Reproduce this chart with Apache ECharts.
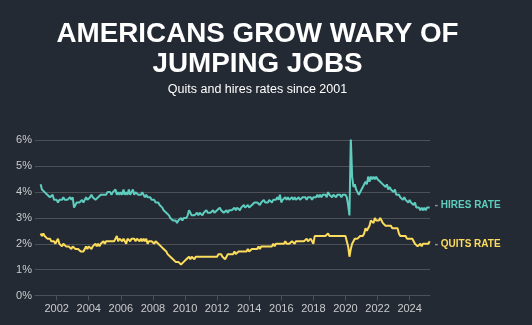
<!DOCTYPE html>
<html>
<head>
<meta charset="utf-8">
<script src="https://cdn.jsdelivr.net/npm/echarts@6/dist/echarts.min.js"></script>
<style>
html,body{margin:0;padding:0;background:#242a33;}
#c{width:532px;height:325px;}
</style>
</head>
<body>
<div id="c"></div>
<script>
// Monthly values, Jan 2001 – Apr 2025 (percent)
const startYear = 2001;
const hiresRate = [
  4.3,4.1,4.1,4.0,4.0,3.9,3.9,3.8,3.8,3.9,3.7,3.7, // 2001
  3.7,3.6,3.7,3.7,3.7,3.8,3.7,3.7,3.7,3.7,3.8,3.7, // 2002
  3.8,3.4,3.5,3.6,3.6,3.6,3.6,3.7,3.6,3.7,3.8,3.7, // 2003
  3.7,3.8,3.9,3.8,3.8,3.7,3.7,3.8,3.8,3.9,3.9,3.9, // 2004
  3.9,3.9,4.0,4.0,4.0,3.9,4.0,4.0,4.1,3.9,4.0,3.9, // 2005
  4.0,3.9,4.1,3.9,4.0,3.9,4.1,3.9,4.0,4.1,3.9,4.0, // 2006
  4.0,3.9,3.9,3.9,4.0,3.9,3.8,3.9,3.8,3.8,3.8,3.7, // 2007
  3.7,3.7,3.6,3.6,3.6,3.5,3.5,3.4,3.3,3.3,3.2,3.2, // 2008
  3.1,3.0,3.0,2.9,2.9,2.9,2.8,2.9,2.9,3.0,2.9,3.0, // 2009
  3.0,3.0,3.1,3.3,3.2,3.1,3.1,3.1,3.1,3.2,3.1,3.2, // 2010
  3.2,3.1,3.2,3.2,3.3,3.2,3.2,3.2,3.2,3.3,3.2,3.2, // 2011
  3.3,3.3,3.4,3.3,3.3,3.2,3.2,3.3,3.2,3.3,3.3,3.3, // 2012
  3.3,3.4,3.3,3.4,3.4,3.3,3.4,3.4,3.5,3.4,3.4,3.5, // 2013
  3.4,3.4,3.5,3.5,3.6,3.6,3.6,3.6,3.5,3.6,3.6,3.7, // 2014
  3.6,3.6,3.6,3.7,3.7,3.6,3.7,3.7,3.7,3.8,3.7,3.9, // 2015
  3.6,3.7,3.7,3.8,3.7,3.8,3.7,3.7,3.8,3.7,3.8,3.7, // 2016
  3.7,3.8,3.7,3.7,3.8,3.8,3.8,3.7,3.8,3.8,3.8,3.7, // 2017
  3.8,3.8,3.8,3.9,3.8,3.9,3.8,3.9,3.9,3.9,3.8,4.0, // 2018
  3.9,3.9,3.8,3.9,3.9,3.8,3.9,3.9,3.9,3.8,3.9,3.9, // 2019
  3.9,3.8,3.5,3.1,6.1,4.6,4.2,4.3,4.1,4.0,3.9,3.9, // 2020
  4.1,4.2,4.2,4.4,4.3,4.6,4.4,4.6,4.5,4.6,4.5,4.6, // 2021
  4.5,4.5,4.4,4.4,4.3,4.3,4.2,4.3,4.1,4.2,4.1,4.1, // 2022
  4.0,4.1,3.9,3.9,3.9,3.8,3.8,3.7,3.8,3.7,3.7,3.6, // 2023
  3.7,3.6,3.6,3.5,3.6,3.4,3.4,3.4,3.3,3.4,3.3,3.4, // 2024
  3.3,3.4,3.4,3.4                                  // 2025
];
const quitsRate = [
  2.4,2.3,2.4,2.3,2.3,2.2,2.2,2.2,2.1,2.1,2.1,2.0, // 2001
  2.1,2.2,2.0,2.0,1.9,2.0,2.0,1.9,1.9,1.9,1.9,1.8, // 2002
  1.9,1.9,1.8,1.8,1.8,1.8,1.7,1.7,1.7,1.8,1.9,1.8, // 2003
  1.9,1.9,1.8,1.9,1.9,2.0,1.9,2.0,1.9,2.0,2.0,2.1, // 2004
  2.0,2.1,2.1,2.1,2.1,2.1,2.1,2.1,2.2,2.3,2.1,2.2, // 2005
  2.2,2.1,2.2,2.2,2.0,2.2,2.2,2.1,2.2,2.2,2.2,2.1, // 2006
  2.2,2.2,2.1,2.2,2.1,2.2,2.1,2.2,2.0,2.1,2.1,2.1, // 2007
  2.1,2.0,2.1,2.1,2.0,2.0,1.9,1.9,1.8,1.8,1.7,1.6, // 2008
  1.6,1.5,1.5,1.4,1.4,1.3,1.3,1.3,1.3,1.2,1.2,1.3, // 2009
  1.3,1.4,1.4,1.5,1.4,1.5,1.5,1.4,1.5,1.5,1.5,1.5, // 2010
  1.5,1.5,1.5,1.5,1.5,1.5,1.5,1.5,1.5,1.5,1.5,1.5, // 2011
  1.5,1.6,1.6,1.6,1.5,1.5,1.4,1.5,1.6,1.6,1.6,1.6, // 2012
  1.6,1.7,1.6,1.6,1.7,1.7,1.7,1.7,1.7,1.7,1.7,1.8, // 2013
  1.7,1.7,1.8,1.8,1.8,1.8,1.8,1.9,1.8,1.9,1.9,1.9, // 2014
  1.9,1.9,1.9,1.9,1.9,1.9,2.0,1.9,2.0,2.0,2.0,2.0, // 2015
  2.0,2.0,2.0,2.1,2.0,2.0,2.0,2.0,2.1,2.1,2.0,2.1, // 2016
  2.1,2.1,2.1,2.1,2.1,2.1,2.1,2.2,2.1,2.1,2.2,2.2, // 2017
  2.0,2.3,2.3,2.3,2.3,2.3,2.3,2.3,2.3,2.3,2.3,2.4, // 2018
  2.3,2.3,2.3,2.3,2.3,2.3,2.3,2.3,2.3,2.3,2.3,2.3, // 2019
  2.3,2.3,1.9,1.5,1.8,2.0,2.1,2.2,2.2,2.2,2.2,2.3, // 2020
  2.3,2.3,2.4,2.6,2.5,2.6,2.7,2.9,2.9,2.8,3.0,2.9, // 2021
  2.9,2.9,3.0,2.9,2.8,2.8,2.7,2.7,2.7,2.7,2.7,2.6, // 2022
  2.6,2.6,2.6,2.6,2.4,2.3,2.3,2.3,2.3,2.3,2.2,2.2, // 2023
  2.2,2.2,2.2,2.1,2.0,2.0,1.9,1.9,2.0,1.9,2.0,2.0, // 2024
  2.0,2.0,2.0,2.1                                  // 2025
];
const yearTicks = [2002,2004,2006,2008,2010,2012,2014,2016,2018,2020,2022,2024];
const titleText = 'AMERICANS GROW WARY OF\nJUMPING JOBS';
const subtitleText = 'Quits and hires rates since 2001';
const hiresLabel = 'HIRES RATE';
const quitsLabel = 'QUITS RATE';

function toPairs(arr){ return arr.map((v,i)=>[startYear + i/12, v]); }

const HIRES_C = '#5ecdbf';
const QUITS_C = '#fcdc5c';
const GRID_C = '#4d5057';
const LABEL_C = '#c9cbce';
const FONT = '"Liberation Sans", Arial, sans-serif';

const chart = echarts.init(document.getElementById('c'), null, {renderer:'canvas'});
chart.setOption({
  backgroundColor:'#242a33',
  animation:false,
  graphic:[
    {type:'text', x:257.5, y:20, silent:true,
     style:{text:titleText, fill:'#ffffff', font:'bold 27.8px ' + FONT, lineHeight:29.5,
            align:'center', verticalAlign:'top'}},
    {type:'text', x:257.5, y:82, silent:true,
     style:{text:subtitleText, fill:'#ffffff', font:'12.5px ' + FONT, lineHeight:16,
            align:'center', verticalAlign:'top'}}
  ],
  grid:{left:35, right:102, top:140.4, bottom:29.5, containLabel:false},
  xAxis:{
    type:'value', min:2000.65, max:2025.27,
    splitLine:{show:false},
    axisLine:{show:true, lineStyle:{color:GRID_C, width:1}},
    axisTick:{show:true, length:5, lineStyle:{color:GRID_C}, customValues:yearTicks},
    axisLabel:{color:LABEL_C, fontFamily:FONT, fontSize:11, margin:8, customValues:yearTicks,
      formatter:v=>String(Math.round(v))}
  },
  yAxis:{
    type:'value', min:0, max:6, interval:1,
    axisLine:{show:false}, axisTick:{show:false},
    splitLine:{show:true, lineStyle:{color:GRID_C, width:1}},
    axisLabel:{color:LABEL_C, fontFamily:FONT, fontSize:11, margin:3, formatter:v=>v+'%'}
  },
  series:[
    {type:'line', name:hiresLabel, data:toPairs(hiresRate), showSymbol:false, symbol:'none',
     lineStyle:{color:HIRES_C, width:2}, itemStyle:{color:HIRES_C},
     endLabel:{show:true, distance:5, offset:[0,-2],
       formatter:()=> '{d|- }{t|'+hiresLabel+'}',
       rich:{d:{color:'#9a9da2', fontFamily:FONT, fontSize:10, fontWeight:'bold'},
             t:{color:HIRES_C, fontFamily:FONT, fontSize:10, fontWeight:'bold'}}}},
    {type:'line', name:quitsLabel, data:toPairs(quitsRate), showSymbol:false, symbol:'none',
     lineStyle:{color:QUITS_C, width:2}, itemStyle:{color:QUITS_C},
     endLabel:{show:true, distance:5, offset:[0,3],
       formatter:()=> '{d|- }{t|'+quitsLabel+'}',
       rich:{d:{color:'#9a9da2', fontFamily:FONT, fontSize:10, fontWeight:'bold'},
             t:{color:QUITS_C, fontFamily:FONT, fontSize:10, fontWeight:'bold'}}}}
  ]
});
</script>
</body>
</html>
